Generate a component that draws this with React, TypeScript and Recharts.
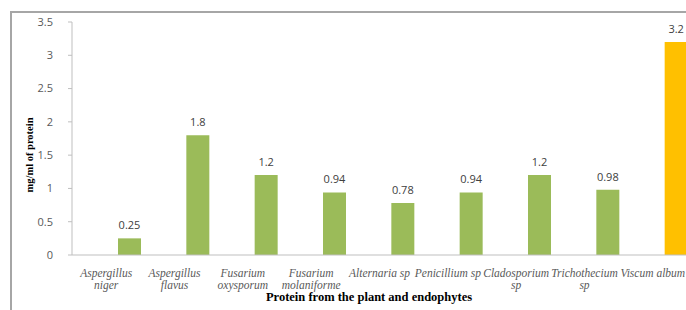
import { Bar, BarChart, Cell, LabelList, XAxis, YAxis, Label } from "recharts";

// categories, one per bar ("\n" = line break in the axis label)
const sources = [
  "Aspergillus\nniger",
  "Aspergillus\nflavus",
  "Fusarium\noxysporum",
  "Fusarium\nmolaniforme",
  "Alternaria sp",
  "Penicillium sp",
  "Cladosporium\nsp",
  "Trichothecium\nsp",
  "Viscum album",
];
const protein = [0.25, 1.8, 1.2, 0.94, 0.78, 0.94, 1.2, 0.98, 3.2];
const origin = ["endophyte", "endophyte", "endophyte", "endophyte", "endophyte", "endophyte", "endophyte", "endophyte", "plant"];
const yTicks = [0, 0.5, 1, 1.5, 2, 2.5, 3, 3.5];

const COLORS: Record<string, string> = { endophyte: "#9bbb59", plant: "#ffc000" };

const data = sources.map((name, i) => ({ name, protein: protein[i], origin: origin[i] }));

const axisGray = "#bfbfbf";
const textGray = "#595959";

function SourceTick({ x, y, payload }: any) {
  const lines = String(payload.value).split("\n");
  return (
    <text
      x={x}
      y={y}
      textAnchor="middle"
      fill={textGray}
      fontFamily="'Liberation Serif', serif"
      fontStyle="italic"
      fontSize={11.5}
    >
      {lines.map((l, i) => (
        <tspan key={i} x={x} dy={i === 0 ? 22 : 12}>
          {l}
        </tspan>
      ))}
    </text>
  );
}

export default function App() {
  return (
    <div style={{ position: "fixed", left: 0, top: 0, width: 686, height: 310, overflow: "hidden", background: "#fff" }}>
      <BarChart
        width={700}
        height={310}
        data={data}
        margin={{ top: 22, right: 13, left: 0, bottom: 0 }}
        barCategoryGap={0}
        barGap={0}
      >
        <XAxis
          dataKey="name"
          interval={0}
          tick={<SourceTick />}
          tickLine={false}
          tickSize={0}
          tickMargin={0}
          height={55}
          stroke={axisGray}
        >
          <Label
            content={({ viewBox }: any) => (
              <g>
                {/* frame of the chart area (only its top and left edges are in view) */}
                <path d="M11 330 V12 H710" stroke="#a6a6a6" strokeWidth={2} fill="none" />
                <text
                  x={369}
                  y={viewBox.y + viewBox.height - 9}
                  textAnchor="middle"
                  fill="#000"
                  fontFamily="'Liberation Serif', serif"
                  fontWeight="bold"
                  fontSize={12.5}
                >
                  Protein from the plant and endophytes
                </text>
              </g>
            )}
          />
        </XAxis>
        <YAxis
          domain={[0, 3.5]}
          ticks={yTicks}
          width={72}
          stroke={axisGray}
          tickSize={4}
          tickMargin={15}
          tick={{ fill: textGray, fontSize: 11, fontFamily: "'Open Sans', sans-serif" }}
        >
          <Label
            content={() => (
              <text
                x={33}
                y={155}
                transform="rotate(-90, 33, 155)"
                textAnchor="middle"
                fill="#000"
                fontFamily="'Liberation Serif', serif"
                fontWeight="bold"
                fontSize={10.5}
              >
                mg/ml of protein
              </text>
            )}
          />
        </YAxis>
        {/* two empty series keep the bars in the right-hand slot of each category */}
        <Bar dataKey="emptyA" isAnimationActive={false} />
        <Bar dataKey="emptyB" isAnimationActive={false} />
        <Bar dataKey="protein" isAnimationActive={false}>
          {data.map((d) => (
            <Cell key={d.name} fill={COLORS[d.origin]} />
          ))}
          <LabelList
            dataKey="protein"
            position="top"
            offset={9}
            fill="#404040"
            fontSize={11}
            fontFamily="'Open Sans', sans-serif"
          />
        </Bar>
      </BarChart>
    </div>
  );
}
